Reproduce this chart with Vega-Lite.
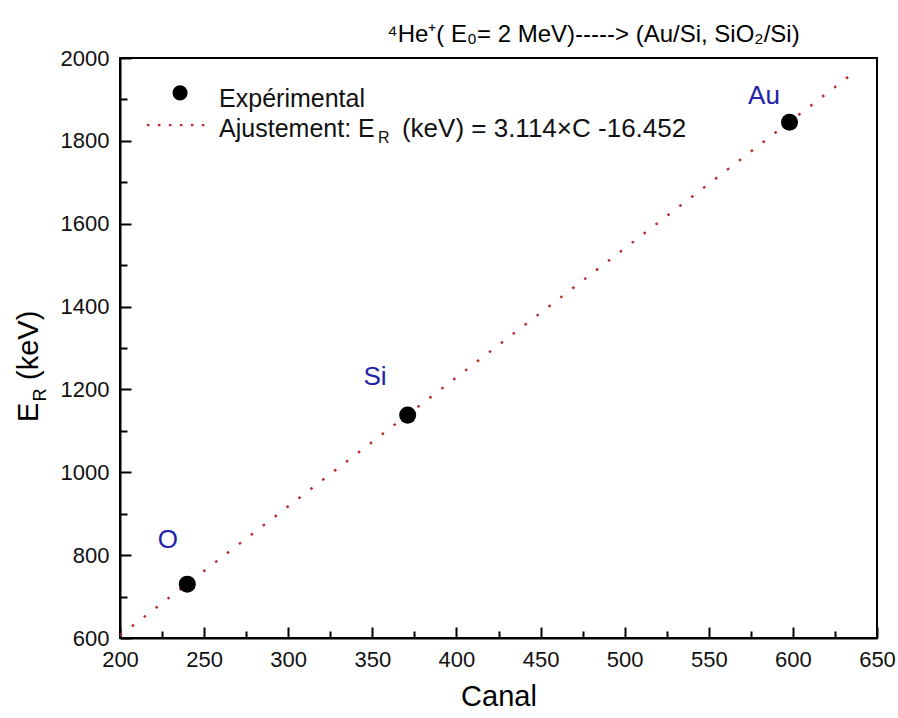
{
  "$schema": "https://vega.github.io/schema/vega-lite/v6.json",
  "width": 757,
  "height": 580,
  "autosize": "none",
  "padding": {"left": 120, "top": 58, "right": 21, "bottom": 80},
  "background": "white",
  "config": {
    "font": "Liberation Sans",
    "view": {"stroke": "black", "strokeWidth": 2}
  },
  "title": {
    "text": "⁴He⁺( E₀= 2 MeV)-----> (Au/Si, SiO₂/Si)",
    "font": "Liberation Sans",
    "fontSize": 24,
    "fontWeight": "normal",
    "color": "black",
    "anchor": "middle",
    "dx": 95,
    "offset": 0
  },
  "datasets": {
    "measured": [
      {"C": 240, "E": 730, "element": "O"},
      {"C": 371, "E": 1138, "element": "Si"},
      {"C": 598, "E": 1845, "element": "Au"}
    ],
    "fit": [
      {"C": 200, "E": 606.348},
      {"C": 634, "E": 1957.824}
    ],
    "peakLabels": [
      {"C": 228.5, "E": 836, "element": "O"},
      {"C": 351.6, "E": 1230, "element": "Si"},
      {"C": 582.8, "E": 1908, "element": "Au"}
    ],
    "legendPoint": [{"C": 235.7, "E": 1916}],
    "legendLine": [{"C": 216, "E": 1838}, {"C": 255.3, "E": 1838}],
    "legendText": [
      {"C": 258.9, "E": 1881.7, "t": "Expérimental"},
      {"C": 258.9, "E": 1809.3, "t": "Ajustement: E"}
    ],
    "legendEquation": [
      {"C": 367.6, "E": 1809.3, "t": "(keV) = 3.114×C -16.452"}
    ],
    "legendSub": [{"C": 353.4, "E": 1794.8, "t": "R"}],
    "yTitle": [
      {"C": 151.3, "E": 1121.4, "t": "E"},
      {"C": 151.3, "E": 1222.8, "t": "(keV)"}
    ],
    "yTitleSub": [{"C": 156.0, "E": 1170.9, "t": "R"}]
  },
  "encoding": {
    "x": {
      "field": "C",
      "type": "quantitative",
      "scale": {"domain": [200, 650], "nice": false, "zero": false},
      "axis": {
        "title": "Canal",
        "titleFont": "Liberation Sans",
        "titleFontSize": 29,
        "titleFontWeight": "normal",
        "titleColor": "black",
        "titlePadding": 8,
        "values": [200, 225, 250, 275, 300, 325, 350, 375, 400, 425, 450, 475, 500, 525, 550, 575, 600, 625, 650],
        "labelExpr": "datum.value % 50 === 0 ? datum.label : ''",
        "labelFont": "Liberation Sans",
        "labelFontSize": 22,
        "labelColor": "#111",
        "labelPadding": 22,
        "labelOverlap": false,
        "labelFlush": false,
        "grid": false,
        "domainColor": "black",
        "domainWidth": 2,
        "tickColor": "black",
        "tickWidth": 2,
        "tickSize": {"condition": {"test": "datum.value % 50 === 0", "value": -11}, "value": -7}
      }
    },
    "y": {
      "field": "E",
      "type": "quantitative",
      "scale": {"domain": [600, 2000], "nice": false, "zero": false},
      "axis": {
        "title": null,
        "values": [600, 700, 800, 900, 1000, 1100, 1200, 1300, 1400, 1500, 1600, 1700, 1800, 1900, 2000],
        "labelExpr": "datum.value % 200 === 0 ? datum.label : ''",
        "format": "d",
        "labelFont": "Liberation Sans",
        "labelFontSize": 22,
        "labelColor": "#111",
        "labelPadding": 22,
        "labelOverlap": false,
        "labelFlush": false,
        "grid": false,
        "domainColor": "black",
        "domainWidth": 2,
        "tickColor": "black",
        "tickWidth": 2,
        "tickSize": {"condition": {"test": "datum.value % 200 === 0", "value": -11}, "value": -7}
      }
    }
  },
  "layer": [
    {
      "data": {"name": "fit"},
      "mark": {"type": "line", "color": "#b82828", "strokeWidth": 2.4, "strokeDash": [2.5, 12.5]}
    },
    {
      "data": {"name": "measured"},
      "mark": {"type": "point", "shape": "circle", "filled": true, "color": "black", "opacity": 1, "size": 290}
    },
    {
      "data": {"name": "peakLabels"},
      "mark": {"type": "text", "font": "Liberation Sans", "fontSize": 26, "color": "#2222aa", "align": "center", "baseline": "middle"},
      "encoding": {"text": {"field": "element"}}
    },
    {
      "data": {"name": "legendPoint"},
      "mark": {"type": "point", "shape": "circle", "filled": true, "color": "black", "opacity": 1, "size": 230}
    },
    {
      "data": {"name": "legendLine"},
      "mark": {"type": "line", "color": "#b82828", "strokeWidth": 2.4, "strokeDash": [2.5, 8.5]}
    },
    {
      "data": {"name": "legendText"},
      "mark": {"type": "text", "font": "Liberation Sans", "fontSize": 25, "color": "#111", "align": "left", "baseline": "alphabetic"},
      "encoding": {"text": {"field": "t"}}
    },
    {
      "data": {"name": "legendEquation"},
      "mark": {"type": "text", "font": "Liberation Sans", "fontSize": 26, "color": "#111", "align": "left", "baseline": "alphabetic"},
      "encoding": {"text": {"field": "t"}}
    },
    {
      "data": {"name": "legendSub"},
      "mark": {"type": "text", "font": "Liberation Sans", "fontSize": 16, "color": "#111", "align": "left", "baseline": "alphabetic"},
      "encoding": {"text": {"field": "t"}}
    },
    {
      "data": {"name": "yTitle"},
      "mark": {"type": "text", "font": "Liberation Sans", "fontSize": 29, "color": "black", "align": "left", "baseline": "alphabetic", "angle": -90},
      "encoding": {"text": {"field": "t"}}
    },
    {
      "data": {"name": "yTitleSub"},
      "mark": {"type": "text", "font": "Liberation Sans", "fontSize": 18, "color": "black", "align": "left", "baseline": "alphabetic", "angle": -90},
      "encoding": {"text": {"field": "t"}}
    }
  ]
}
